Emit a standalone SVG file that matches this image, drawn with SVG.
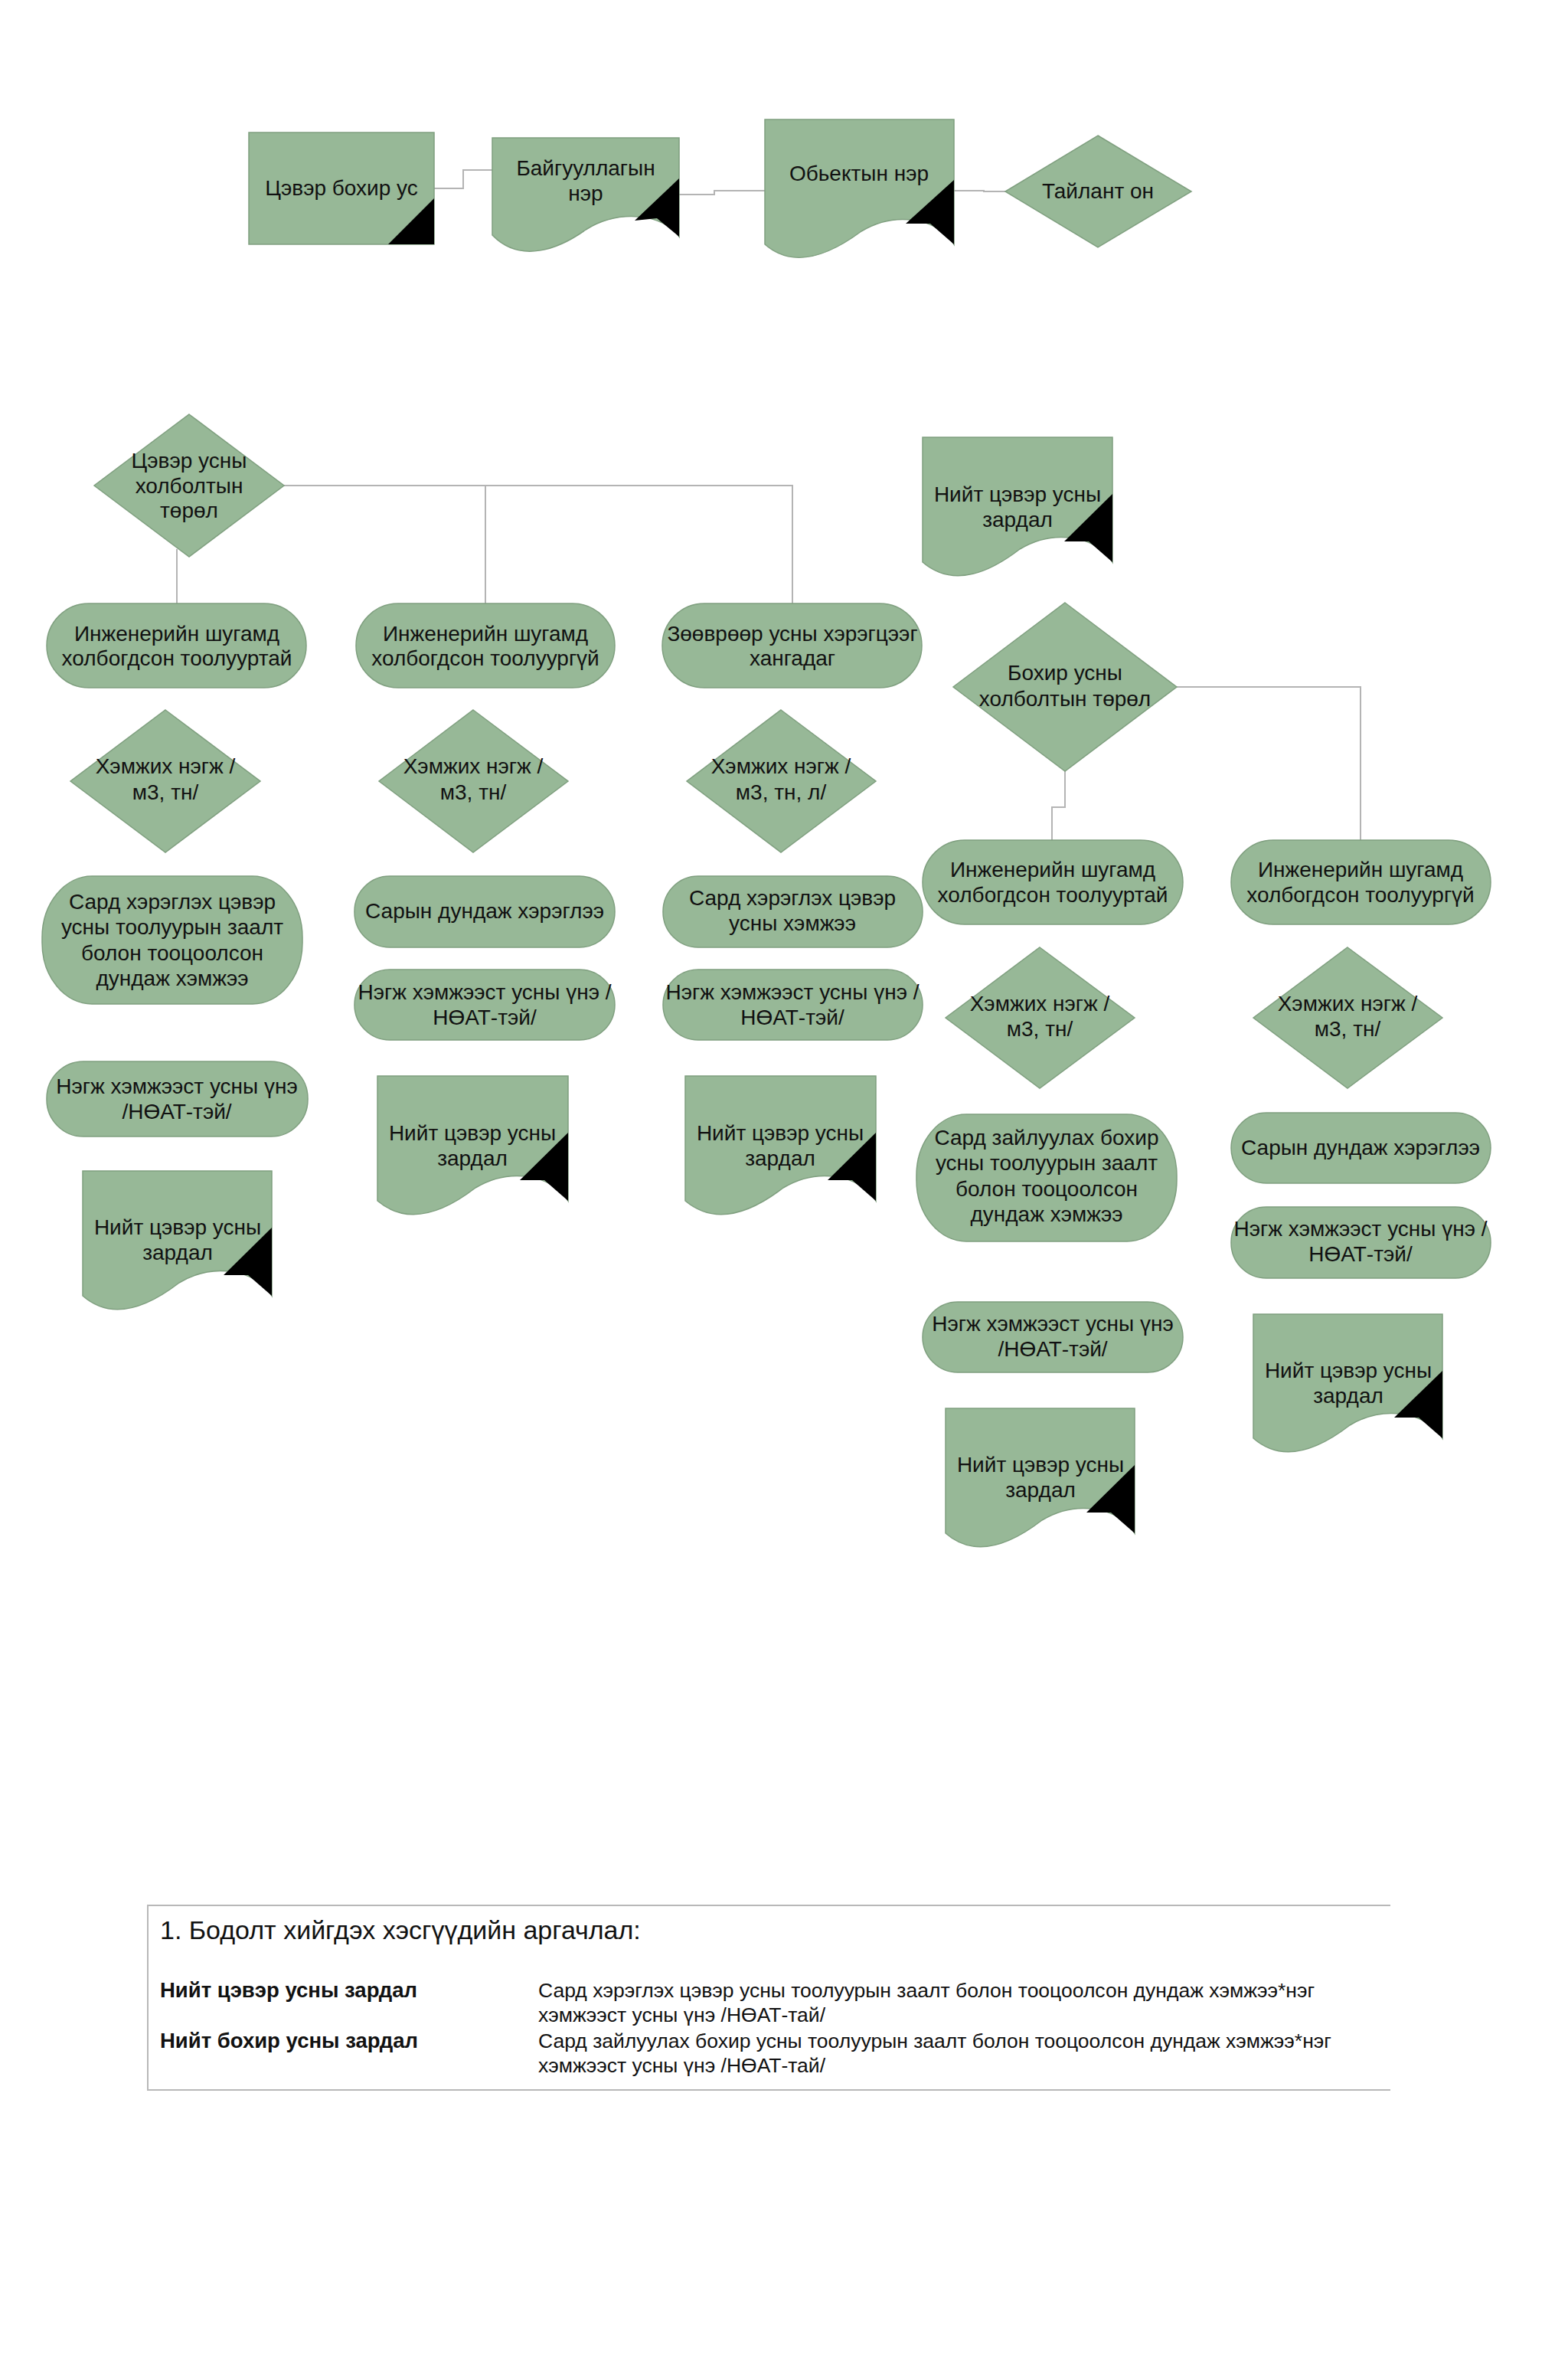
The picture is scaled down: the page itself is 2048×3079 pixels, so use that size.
<svg xmlns="http://www.w3.org/2000/svg" width="2048" height="3079" viewBox="0 0 2048 3079">
<style>
.s{fill:#97b897;stroke:#7f9f7f;stroke-width:1.5}
.k{fill:#000}
.c{fill:none;stroke:#b4b4b4;stroke-width:2}
text{font-family:"Liberation Sans",Arial,sans-serif;font-size:28px;fill:#111;text-anchor:middle}
.b{font-size:27.5px;font-weight:bold;text-anchor:start}
.d{font-size:26.5px;text-anchor:start}
.t{font-size:34px;text-anchor:start}
</style>
<rect width="2048" height="3079" fill="#fff"/>
<g id="connectors">
<polyline class="c" points="567,246 605,246 605,222 643,222"/>
<polyline class="c" points="887,254 933,254 933,249 999,249"/>
<polyline class="c" points="1246,249 1285,249 1285,250 1313,250"/>
<polyline class="c" points="371,634 1035,634 1035,788"/>
<line class="c" x1="634" y1="634" x2="634" y2="788"/>
<polyline class="c" points="231,717 231,788"/>
<polyline class="c" points="1537,897 1777,897 1777,1097"/>
<polyline class="c" points="1391,1007 1391,1054 1374,1054 1374,1097"/>
</g>
<g id="n1"><rect class="s" x="325" y="173" width="242" height="146"/><polygon class="k" points="567,259 567,319 507,319"/><text x="446" y="255">Цэвэр бохир ус</text></g>
<g id="n2"><path class="s" d="M643,180 H887 V309 C867,280 810,272 765,300 C730,325 680,345 643,307 Z"/><polygon class="k" points="887,233 887,309 858,285 829,288"/><text x="765" y="229">Байгууллагын</text><text x="765" y="262">нэр</text></g>
<g id="n3"><path class="s" d="M999,156 H1246 V319 C1225,285 1170,275 1125,302 C1090,328 1040,355 999,319 Z"/><polygon class="k" points="1246,235 1246,319 1215,292 1183,292"/><text x="1122" y="236">Обьектын нэр</text></g>
<g id="n4"><polygon class="s" points="1434,177 1556,250 1434,323 1313,250"/><text x="1434" y="259">Тайлант он</text></g>

<g id="n5"><polygon class="s" points="247,541 371,634 247,727 123,634"/><text x="247" y="611">Цэвэр усны</text><text x="247" y="644">холболтын</text><text x="247" y="676">төрөл</text></g>
<g id="n6"><rect class="s" x="61" y="788" width="339" height="110" rx="55" ry="55"/><text x="231" y="837">Инженерийн шугамд</text><text x="231" y="869">холбогдсон тоолууртай</text></g>
<g id="n7"><rect class="s" x="465" y="788" width="338" height="110" rx="55" ry="55"/><text x="634" y="837">Инженерийн шугамд</text><text x="634" y="869">холбогдсон тоолуургүй</text></g>
<g id="n8"><rect class="s" x="865" y="788" width="339" height="110" rx="55" ry="55"/><text x="1035" y="837">Зөөврөөр усны хэрэгцээг</text><text x="1035" y="869">хангадаг</text></g>

<g id="n9"><polygon class="s" points="216,927 340,1020 216,1113 92,1020"/><text x="216" y="1010">Хэмжих нэгж /</text><text x="216" y="1044">м3, тн/</text></g>
<g id="n10"><polygon class="s" points="618,927 742,1020 618,1113 495,1020"/><text x="618" y="1010">Хэмжих нэгж /</text><text x="618" y="1044">м3, тн/</text></g>
<g id="n11"><polygon class="s" points="1020,927 1144,1020 1020,1113 897,1020"/><text x="1020" y="1010">Хэмжих нэгж /</text><text x="1020" y="1044">м3, тн, л/</text></g>

<g id="n12"><rect class="s" x="55" y="1144" width="340" height="167" rx="65" ry="80"/><text x="225" y="1187">Сард хэрэглэх цэвэр</text><text x="225" y="1220">усны тоолуурын заалт</text><text x="225" y="1254">болон тооцоолсон</text><text x="225" y="1287">дундаж хэмжээ</text></g>
<g id="n13"><rect class="s" x="463" y="1144" width="340" height="93" rx="46" ry="46"/><text x="633" y="1199">Сарын дундаж хэрэглээ</text></g>
<g id="n14"><rect class="s" x="866" y="1144" width="339" height="93" rx="46" ry="46"/><text x="1035" y="1182">Сард хэрэглэх цэвэр</text><text x="1035" y="1215">усны хэмжээ</text></g>
<g id="n15"><rect class="s" x="463" y="1266" width="340" height="92" rx="46" ry="46"/><text x="633" y="1305">Нэгж хэмжээст усны үнэ /</text><text x="633" y="1338">НӨАТ-тэй/</text></g>
<g id="n16"><rect class="s" x="866" y="1266" width="339" height="92" rx="46" ry="46"/><text x="1035" y="1305">Нэгж хэмжээст усны үнэ /</text><text x="1035" y="1338">НӨАТ-тэй/</text></g>
<g id="n17"><rect class="s" x="61" y="1386" width="341" height="98" rx="48" ry="48"/><text x="231" y="1428">Нэгж хэмжээст усны үнэ</text><text x="231" y="1461">/НӨАТ-тэй/</text></g>

<g id="n18"><path class="s" d="M108,1529 H355 V1692 C334,1658 279,1648 234,1675 C199,1702 149,1728 108,1692 Z"/><polygon class="k" points="355,1603 355,1692 324,1665 292,1665"/><text x="232" y="1612">Нийт цэвэр усны</text><text x="232" y="1645">зардал</text></g>
<g id="n19"><path class="s" d="M493,1405 H742 V1568 C721,1534 666,1524 621,1551 C586,1578 536,1604 493,1568 Z"/><polygon class="k" points="742,1479 742,1568 711,1541 679,1541"/><text x="617" y="1489">Нийт цэвэр усны</text><text x="617" y="1522">зардал</text></g>
<g id="n20"><path class="s" d="M895,1405 H1144 V1568 C1123,1534 1068,1524 1023,1551 C988,1578 938,1604 895,1568 Z"/><polygon class="k" points="1144,1479 1144,1568 1113,1541 1081,1541"/><text x="1019" y="1489">Нийт цэвэр усны</text><text x="1019" y="1522">зардал</text></g>

<g id="n21"><path class="s" d="M1205,571 H1453 V734 C1432,700 1377,690 1332,717 C1297,744 1247,770 1205,734 Z"/><polygon class="k" points="1453,645 1453,734 1422,707 1390,707"/><text x="1329" y="655">Нийт цэвэр усны</text><text x="1329" y="688">зардал</text></g>
<g id="n22"><polygon class="s" points="1391,787 1537,897 1391,1007 1245,897"/><text x="1391" y="888">Бохир усны</text><text x="1391" y="922">холболтын төрөл</text></g>
<g id="n23"><rect class="s" x="1205" y="1097" width="340" height="110" rx="55" ry="55"/><text x="1375" y="1145">Инженерийн шугамд</text><text x="1375" y="1178">холбогдсон тоолууртай</text></g>
<g id="n24"><rect class="s" x="1608" y="1097" width="339" height="110" rx="55" ry="55"/><text x="1777" y="1145">Инженерийн шугамд</text><text x="1777" y="1178">холбогдсон тоолуургүй</text></g>
<g id="n25"><polygon class="s" points="1358,1237 1482,1329 1358,1421 1235,1329"/><text x="1358" y="1320">Хэмжих нэгж /</text><text x="1358" y="1353">м3, тн/</text></g>
<g id="n26"><polygon class="s" points="1760,1237 1884,1329 1760,1421 1637,1329"/><text x="1760" y="1320">Хэмжих нэгж /</text><text x="1760" y="1353">м3, тн/</text></g>
<g id="n27"><rect class="s" x="1197" y="1455" width="340" height="166" rx="65" ry="80"/><text x="1367" y="1495">Сард зайлуулах бохир</text><text x="1367" y="1528">усны тоолуурын заалт</text><text x="1367" y="1562">болон тооцоолсон</text><text x="1367" y="1595">дундаж хэмжээ</text></g>
<g id="n28"><rect class="s" x="1608" y="1453" width="339" height="92" rx="46" ry="46"/><text x="1777" y="1508">Сарын дундаж хэрэглээ</text></g>
<g id="n29"><rect class="s" x="1608" y="1576" width="339" height="93" rx="46" ry="46"/><text x="1777" y="1614">Нэгж хэмжээст усны үнэ /</text><text x="1777" y="1647">НӨАТ-тэй/</text></g>
<g id="n30"><rect class="s" x="1205" y="1700" width="340" height="92" rx="46" ry="46"/><text x="1375" y="1738">Нэгж хэмжээст усны үнэ</text><text x="1375" y="1771">/НӨАТ-тэй/</text></g>
<g id="n31"><path class="s" d="M1637,1716 H1884 V1878 C1863,1844 1808,1834 1763,1861 C1728,1888 1678,1914 1637,1878 Z"/><polygon class="k" points="1884,1790 1884,1878 1853,1851 1821,1851"/><text x="1761" y="1799">Нийт цэвэр усны</text><text x="1761" y="1832">зардал</text></g>
<g id="n32"><path class="s" d="M1235,1839 H1482 V2002 C1461,1968 1406,1958 1361,1985 C1326,2012 1276,2038 1235,2002 Z"/><polygon class="k" points="1482,1913 1482,2002 1451,1975 1419,1975"/><text x="1359" y="1922">Нийт цэвэр усны</text><text x="1359" y="1955">зардал</text></g>

<g id="note">
<polyline fill="none" stroke="#b8b8b8" stroke-width="2" points="1816,2488 193,2488 193,2729 1816,2729"/>
<text class="t" x="209" y="2532">1. Бодолт хийгдэх хэсгүүдийн аргачлал:</text>
<text class="b" x="209" y="2608">Нийт цэвэр усны зардал</text>
<text class="b" x="209" y="2674">Нийт бохир усны зардал</text>
<text class="d" x="703" y="2608">Сард хэрэглэх цэвэр усны тоолуурын заалт болон тооцоолсон дундаж хэмжээ*нэг</text>
<text class="d" x="703" y="2640">хэмжээст усны үнэ /НӨАТ-тай/</text>
<text class="d" x="703" y="2674">Сард зайлуулах бохир усны тоолуурын заалт болон тооцоолсон дундаж хэмжээ*нэг</text>
<text class="d" x="703" y="2706">хэмжээст усны үнэ /НӨАТ-тай/</text>
</g>
</svg>
